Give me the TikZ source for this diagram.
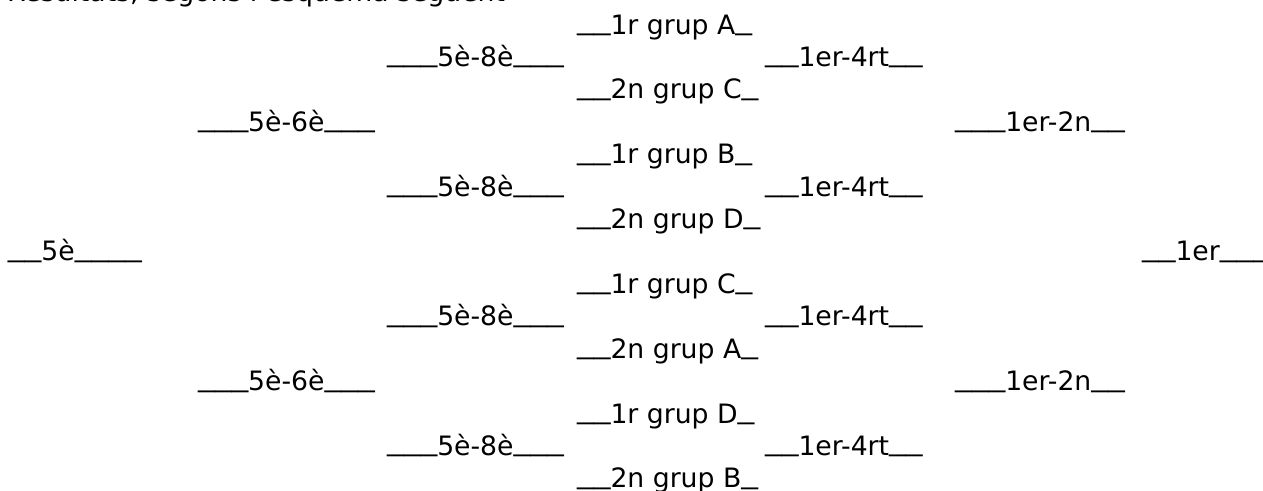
\documentclass[tikz,border=0pt]{standalone}
\usepackage{fontspec}
\setmainfont{DejaVu Sans}
% Verdana-like underscore: wider and sitting on the baseline
\newcommand\U{\raisebox{4.6pt}{\scalebox{1.256}[1]{\_}}}
\begin{document}
\begin{tikzpicture}[x=1pt,y=-1pt,
  lbl/.style={anchor=base west,inner sep=0pt,outer sep=0pt,
    font=\fontsize{26.67pt}{32.4pt}\selectfont}]
\useasboundingbox (0,0) rectangle (1263,490);
\clip (0,0) rectangle (1263,490);
\node[lbl] (head) at (7,1.4) {Resultats, segons l'esquema següent};
% rows
\node[lbl] (r1)  at (577,34.0)  {\U\U1r grup A\U};
\node[lbl] (q1)  at (387,66.4)  {\U\U\U5è-8è\U\U\U};
\node[lbl] (w1)  at (765,66.4)  {\U\U1er-4rt\U\U};
\node[lbl] (r2)  at (577,98.8)  {\U\U2n grup C\U};
\node[lbl] (s1)  at (198,131.3) {\U\U\U5è-6è\U\U\U};
\node[lbl] (f1)  at (955,131.3) {\U\U\U1er-2n\U\U};
\node[lbl] (r3)  at (577,163.7) {\U\U1r grup B\U};
\node[lbl] (q2)  at (387,196.1) {\U\U\U5è-8è\U\U\U};
\node[lbl] (w2)  at (765,196.1) {\U\U1er-4rt\U\U};
\node[lbl] (r4)  at (577,228.5) {\U\U2n grup D\U};
\node[lbl] (fifth) at (8,260.9) {\U\U5è\U\U\U\U};
\node[lbl] (first) at (1142,260.9) {\U\U1er\U\U\U};
\node[lbl] (r5)  at (577,293.4) {\U\U1r grup C\U};
\node[lbl] (q3)  at (387,325.8) {\U\U\U5è-8è\U\U\U};
\node[lbl] (w3)  at (765,325.8) {\U\U1er-4rt\U\U};
\node[lbl] (r6)  at (577,358.2) {\U\U2n grup A\U};
\node[lbl] (s2)  at (198,390.6) {\U\U\U5è-6è\U\U\U};
\node[lbl] (f2)  at (955,390.6) {\U\U\U1er-2n\U\U};
\node[lbl] (r7)  at (577,423.0) {\U\U1r grup D\U};
\node[lbl] (q4)  at (387,455.5) {\U\U\U5è-8è\U\U\U};
\node[lbl] (w4)  at (765,455.5) {\U\U1er-4rt\U\U};
\node[lbl] (r8)  at (577,487.9) {\U\U2n grup B\U};
\end{tikzpicture}
\end{document}
